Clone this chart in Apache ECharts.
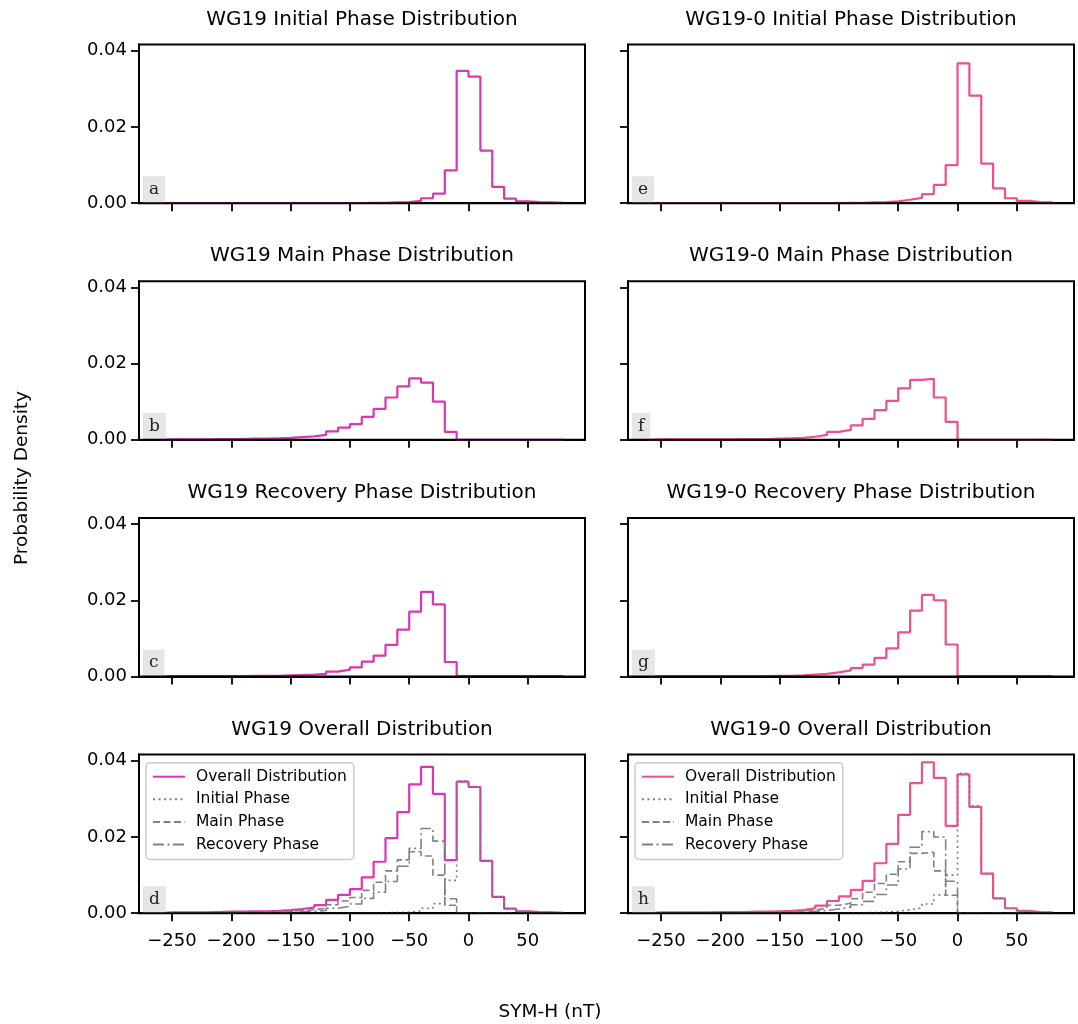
<!DOCTYPE html>
<html><head><meta charset="utf-8">
<script src="https://cdn.jsdelivr.net/npm/echarts@6/dist/echarts.min.js"></script>
<style>html,body{margin:0;padding:0;background:#fff}#c{width:1078px;height:1024px}</style>
</head><body><div id="c"></div>
<script>
// ---------- data ----------
const binEdges = [-260,-250,-240,-230,-220,-210,-200,-190,-180,-170,-160,-150,-140,-130,-120,-110,-100,-90,-80,-70,-60,-50,-40,-30,-20,-10,0,10,20,30,40,50,60,70,80];
const xTicks = [-250,-200,-150,-100,-50,0,50];
const yTicks = [0,0.02,0.04];

const wg19Initial = [0,0,0,0,0,0,0,0,0,0,0,0,0,0,0,0,0,0.0001,0.0001,0.0002,0.0003,0.0006,0.0013,0.0025,0.0086,0.0347,0.0332,0.0138,0.0043,0.0012,0.0005,0.0003,0.0002,0.0001];
const wg19Main = [0.0001,0.0001,0.0001,0.0001,0.0002,0.0002,0.0002,0.0003,0.0003,0.0004,0.0005,0.0007,0.0009,0.0013,0.0022,0.0032,0.0041,0.0060,0.0081,0.0111,0.0140,0.0161,0.0150,0.0100,0.0021,0,0,0,0,0,0,0,0,0];
const wg19Recovery = [0.0001,0.0001,0.0001,0.0001,0.0001,0.0001,0.0001,0.0002,0.0002,0.0002,0.0003,0.0004,0.0005,0.0007,0.0013,0.0018,0.0024,0.0039,0.0055,0.0083,0.0123,0.0170,0.0222,0.0189,0.0038,0.0001,0.0001,0.0001,0.0001,0.0001,0.0001,0.0001,0.0001,0.0001];
const wg19Overall = [0.0002,0.0002,0.0002,0.0002,0.0003,0.0004,0.0004,0.0005,0.0005,0.0006,0.0008,0.0011,0.0015,0.0021,0.0035,0.0048,0.0063,0.0094,0.0135,0.0197,0.0265,0.0338,0.0384,0.0313,0.0139,0.0345,0.0331,0.0137,0.0043,0.0012,0.0005,0.0003,0.0002,0.0001];

const wg190Initial = [0,0,0,0,0,0,0,0,0,0,0,0,0,0,0,0,0.0001,0.0001,0.0002,0.0003,0.0005,0.0009,0.0014,0.0024,0.0048,0.0100,0.0367,0.0282,0.0104,0.0039,0.0013,0.0006,0.0003,0.0002];
const wg190Main = [0.0001,0.0001,0.0001,0.0001,0.0001,0.0001,0.0001,0.0002,0.0002,0.0002,0.0003,0.0004,0.0005,0.0008,0.0013,0.0021,0.0026,0.0038,0.0055,0.0078,0.0102,0.0135,0.0157,0.0160,0.0111,0.0047,0,0,0,0,0,0,0,0];
const wg190Recovery = [0.0001,0.0001,0.0001,0.0001,0.0001,0.0001,0.0001,0.0001,0.0001,0.0001,0.0002,0.0002,0.0003,0.0005,0.0007,0.0011,0.0016,0.0022,0.0031,0.0049,0.0074,0.0116,0.0173,0.0214,0.0200,0.0084,0.0001,0.0001,0.0001,0.0001,0.0001,0.0001,0.0001,0.0001];
const wg190Overall = [0.0002,0.0002,0.0002,0.0002,0.0002,0.0003,0.0003,0.0003,0.0004,0.0004,0.0005,0.0006,0.0008,0.0013,0.0020,0.0032,0.0044,0.0061,0.0085,0.0131,0.0182,0.0258,0.0341,0.0396,0.0355,0.0229,0.0364,0.0279,0.0104,0.0039,0.0013,0.0006,0.0003,0.0002];

const legendNames = ['Overall Distribution','Initial Phase','Main Phase','Recovery Phase'];

// ---------- style ----------
const FONT = '"DejaVu Sans", sans-serif';
const SERIF = '"DejaVu Serif", serif';
const C_LEFT = '#dd35b2', C_RIGHT = '#ef4f8b', GRAY = '#808080';
const colLeft = [139, 628], gridW = 446;
const rowTop = [44.6, 281.2, 517.9, 754.6], gridH = 158.6;
const X_MIN = -277.8, X_MAX = 98.2, Y_MAX = 0.0416;

function stepData(vals) {
  const pts = [[binEdges[0], 0]];
  vals.forEach((v, i) => pts.push([binEdges[i], v]));
  pts.push([binEdges[binEdges.length - 1], vals[vals.length - 1]]);
  pts.push([binEdges[binEdges.length - 1], 0]);
  return pts;
}
const fmtX = v => (v < 0 ? '\u2212' + Math.abs(v) : String(v));

const panels = [
  {title:'WG19 Initial Phase Distribution', letter:'a', col:0, row:0, lines:[['WG19 Initial', wg19Initial, C_LEFT, 'solid', 2.2]]},
  {title:'WG19 Main Phase Distribution', letter:'b', col:0, row:1, lines:[['WG19 Main', wg19Main, C_LEFT, 'solid', 2.2]]},
  {title:'WG19 Recovery Phase Distribution', letter:'c', col:0, row:2, lines:[['WG19 Recovery', wg19Recovery, C_LEFT, 'solid', 2.2]]},
  {title:'WG19 Overall Distribution', letter:'d', col:0, row:3, lines:[
    ['Overall Distribution', wg19Overall, C_LEFT, 'solid', 2.2],
    ['Initial Phase', wg19Initial, GRAY, [2,3.5], 1.6],
    ['Main Phase', wg19Main, GRAY, [7,3.5], 1.6],
    ['Recovery Phase', wg19Recovery, GRAY, [11,3.5,2,3.5], 1.6]]},
  {title:'WG19-0 Initial Phase Distribution', letter:'e', col:1, row:0, lines:[['WG19-0 Initial', wg190Initial, C_RIGHT, 'solid', 2.2]]},
  {title:'WG19-0 Main Phase Distribution', letter:'f', col:1, row:1, lines:[['WG19-0 Main', wg190Main, C_RIGHT, 'solid', 2.2]]},
  {title:'WG19-0 Recovery Phase Distribution', letter:'g', col:1, row:2, lines:[['WG19-0 Recovery', wg190Recovery, C_RIGHT, 'solid', 2.2]]},
  {title:'WG19-0 Overall Distribution', letter:'h', col:1, row:3, lines:[
    ['Overall Distribution', wg190Overall, C_RIGHT, 'solid', 2.2],
    ['Initial Phase', wg190Initial, GRAY, [2,3.5], 1.6],
    ['Main Phase', wg190Main, GRAY, [7,3.5], 1.6],
    ['Recovery Phase', wg190Recovery, GRAY, [11,3.5,2,3.5], 1.6]]}
];

const grid = [], xAxis = [], yAxis = [], series = [], title = [];
panels.forEach((p, i) => {
  const left = colLeft[p.col], top = rowTop[p.row];
  grid.push({left, top, width: gridW, height: gridH, show: true, borderColor: '#000', borderWidth: 2, backgroundColor: 'transparent', z: 10});
  xAxis.push({
    type: 'value', gridIndex: i, min: X_MIN, max: X_MAX,
    axisLine: {show: true, onZero: false, lineStyle: {color: '#000', width: 2}},
    axisTick: {show: true, length: 8, customValues: xTicks, lineStyle: {color: '#000', width: 1.8}},
    axisLabel: {show: p.row === 3, customValues: xTicks, formatter: fmtX, fontSize: 18, fontFamily: FONT, color: '#000', margin: 19},
    splitLine: {show: false}
  });
  yAxis.push({
    type: 'value', gridIndex: i, min: 0, max: Y_MAX,
    axisLine: {show: true, onZero: false, lineStyle: {color: '#000', width: 2}},
    axisTick: {show: true, length: 8, customValues: yTicks, lineStyle: {color: '#000', width: 1.8}},
    axisLabel: {show: p.col === 0, customValues: yTicks, formatter: v => v.toFixed(2), fontSize: 18, fontFamily: FONT, color: '#000', margin: 12},
    splitLine: {show: false}
  });
  p.lines.forEach(([name, vals, color, type, width]) => {
    series.push({
      name, type: 'line', xAxisIndex: i, yAxisIndex: i, data: stepData(vals), step: 'end',
      symbol: 'none', showSymbol: false, clip: true, animation: false, z: 2,
      itemStyle: {color}, lineStyle: {color, width, type}
    });
  });
  title.push({
    text: p.title, left: left + gridW / 2, top: top - 35, textAlign: 'center', padding: 0,
    textStyle: {fontSize: 20, fontWeight: 'normal', fontFamily: FONT, color: '#000'}
  });
  title.push({
    text: p.letter, left: left + 4, top: top + gridH - 27, textAlign: 'left', padding: [5, 6, 5, 6],
    backgroundColor: '#e6e6e6', z: 8,
    textStyle: {fontSize: 17, fontWeight: 'normal', fontFamily: SERIF, color: '#222'}
  });
});
title.push({
  text: 'SYM-H (nT)', left: 550, top: 1003, textAlign: 'center', padding: 0,
  textStyle: {fontSize: 18.5, fontWeight: 'normal', fontFamily: FONT, color: '#000'}
});

function makeLegend(left, overallColor) {
  return {
    show: true, orient: 'vertical', left, top: 762.7,
    data: legendNames.map((n, k) => k === 0 ? {name: n, itemStyle: {color: overallColor}, lineStyle: {color: overallColor}} : {name: n}),
    itemWidth: 32, itemHeight: 14, itemGap: 6.6, padding: [6, 7, 7, 6],
    backgroundColor: '#fff', borderColor: '#cccccc', borderWidth: 1.5, borderRadius: 4,
    itemStyle: {opacity: 0},
    textStyle: {fontSize: 15.5, fontFamily: FONT, color: '#000', padding: [0, 0, 0, 6]},
    selectedMode: false, z: 12
  };
}

const chart = echarts.init(document.getElementById('c'), null, {renderer: 'canvas'});
chart.setOption({
  backgroundColor: '#fff',
  animation: false,
  grid, xAxis, yAxis, series, title,
  legend: [makeLegend(146, C_LEFT), makeLegend(635, C_RIGHT)],
  graphic: [{
    type: 'text', x: 22, y: 478, rotation: Math.PI / 2, z: 20,
    style: {text: 'Probability Density', fontSize: 18.5, fontFamily: FONT, fill: '#000', align: 'center', verticalAlign: 'middle', textAlign: 'center', textVerticalAlign: 'middle'}
  }]
});
</script>
</body></html>
